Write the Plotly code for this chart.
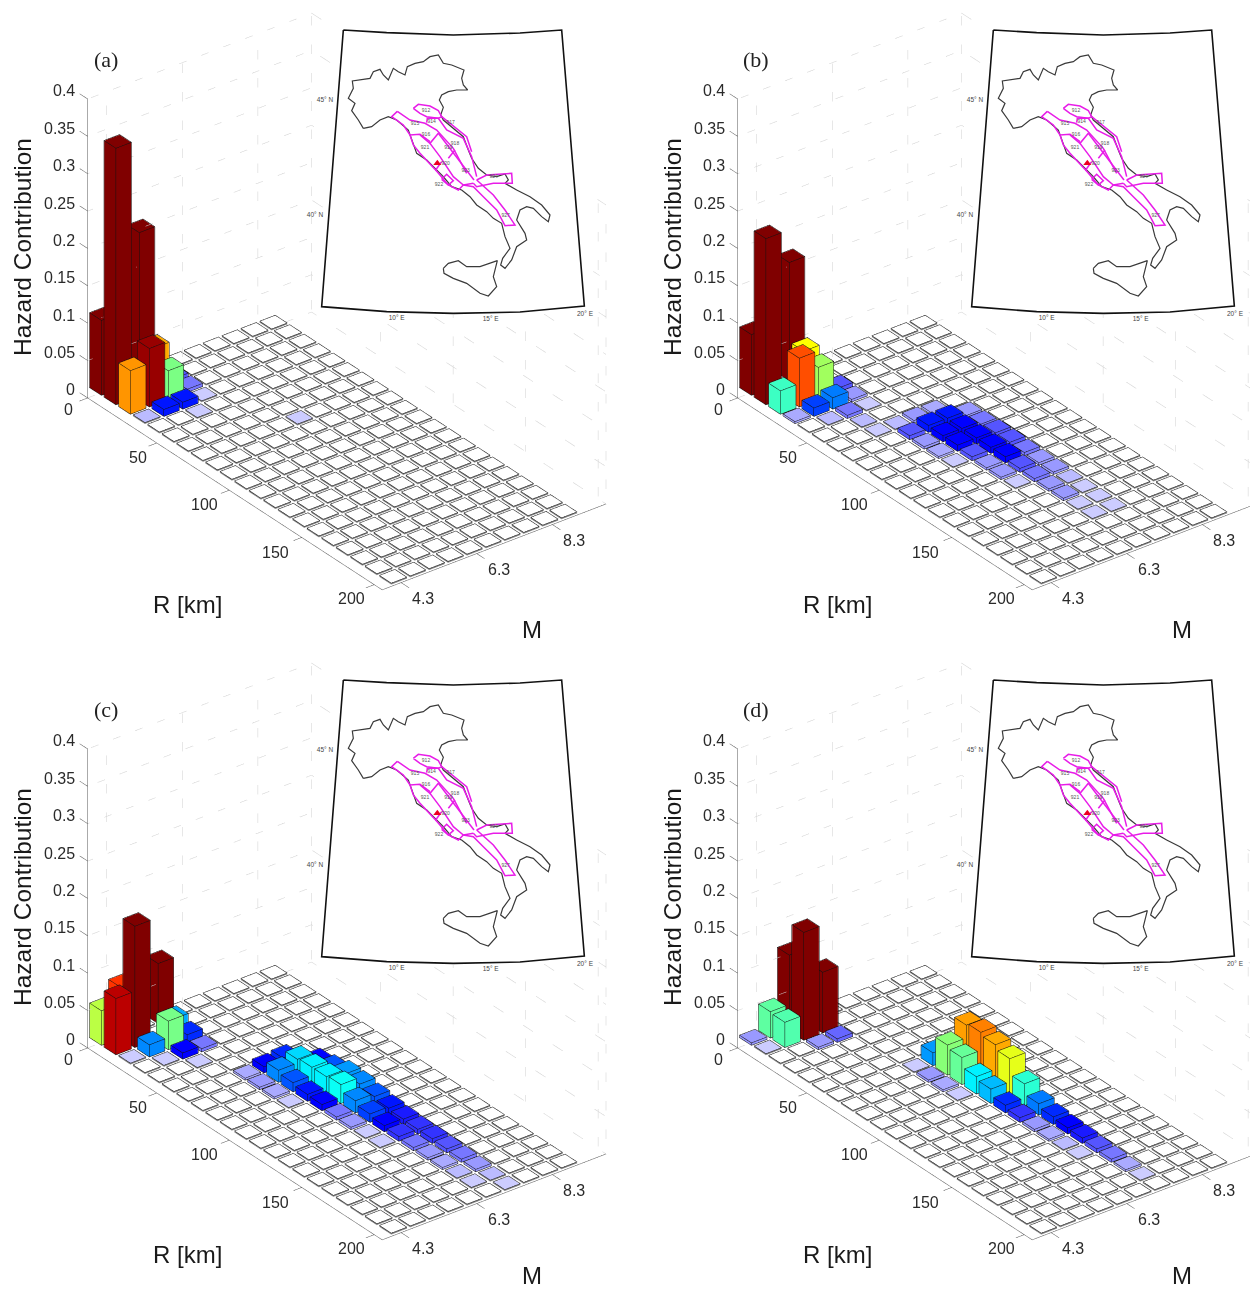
import math
import plotly.graph_objects as go
from plotly.colors import sample_colorscale, hex_to_rgb

# ---------- data ----------
R_ROWS = [10 * k for k in range(21)]
M_COLS = [4.3 + 0.5 * j for j in range(10)]
Z_TICKS = [0, 0.05, 0.1, 0.15, 0.2, 0.25, 0.3, 0.35, 0.4]
Z_LABELS = ["0", "0.05", "0.1", "0.15", "0.2", "0.25", "0.3", "0.35", "0.4"]
R_TICKS = [2.3, 50, 100, 150, 200]
R_LABELS = ["0", "50", "100", "150", "200"]
M_TICKS = [4.3, 6.3, 8.3]
M_LABELS = ["4.3", "6.3", "8.3"]
PANEL_LABELS = ["(a)", "(b)", "(c)", "(d)"]

a_row = [0, 1, 0, 2, 2, 1, 2, 3, 3, 2, 1, 3, 3, 4, 7]
a_col = [0, 0, 2, 1, 0, 2, 2, 1, 2, 3, 3, 3, 0, 2, 5]
a_val = [.1, .343, .198, .078, .058, .056, .0385, .009, .009, .004, .005, .0015, .002, .0015, .0015]

b_row = [0, 1, 0, 2, 1, 2, 2, 3, 3, 2, 3, 4, 4, 4, 3, 5, 6, 6, 6, 6, 7, 7, 7, 7, 8, 8, 8, 8, 9, 9, 9, 9,
         10, 10, 10, 10, 11, 11, 11, 12, 12, 12, 13, 13, 13, 14, 14, 15, 15, 16, 16, 17, 17]
b_col = [0, 0, 2, 1, 2, 2, 0, 2, 1, 3, 3, 3, 2, 1, 0, 2, 2, 3, 4, 5, 3, 4, 5, 6, 3, 4, 5, 6, 3, 4, 5, 6,
         3, 4, 5, 6, 4, 5, 6, 4, 5, 6, 4, 5, 6, 5, 6, 5, 6, 5, 6, 5, 6]
b_val = [.081, .222, .158, .065, .052, .043, .031, .015, .011, .005, .003, .0015, .004, .002, .0025, .002,
         .0015, .002, .003, .0025, .005, .009, .009, .003, .003, .008, .008, .004, .0025, .008, .008, .005,
         .0015, .005, .008, .005, .003, .008, .004, .003, .005, .003, .0015, .004, .003, .003, .002, .003,
         .0015, .0015, .0015, .0015, .0015]

c_row = [0, 0, 1, 1, 0, 2, 1, 2, 2, 3, 3, 2, 3, 4,
         6, 7, 8, 9, 6, 6, 7, 8, 9, 10, 11, 12, 13, 14,
         7, 8, 9, 10, 11, 12, 13, 14, 15, 16, 17, 18, 19,
         7, 8, 9, 10, 11, 12, 13, 14, 15, 16, 17, 18, 19, 20]
c_col = [0, 1, 0, 1, 3, 2, 3, 1, 3, 2, 3, 0, 1, 2,
         3, 3, 3, 3, 4, 5, 4, 4, 4, 4, 4, 4, 4, 4,
         5, 5, 5, 5, 5, 5, 5, 5, 5, 5, 5, 5, 5,
         6, 6, 6, 6, 6, 6, 6, 6, 6, 6, 6, 6, 6, 6]
c_val = [.046, .068, .075, .162, .08, .038, .018, .016, .01, .008, .004, .0015, .0015, .0015,
         .0025, .003, .0025, .0015, .008, .01, .016, .012, .009, .008, .004, .003, .0015, .0015,
         .021, .023, .023, .025, .016, .011, .008, .006, .004, .003, .0025, .002, .0015,
         .008, .012, .017, .016, .012, .009, .007, .006, .006, .005, .004, .003, .002, .0015]

d_row = [0, 1, 0, 1, 0, 1, 1, 2, 2,
         6, 7, 8, 9,
         6, 7, 8, 9, 10, 11, 12, 13, 14, 15, 16,
         7, 8, 9, 10, 11, 12, 13, 14, 15, 16, 17, 18, 19]
d_col = [0, 0, 1, 1, 2, 2, 3, 2, 3,
         4, 4, 4, 4,
         5, 5, 5, 5, 5, 5, 5, 5, 5, 5, 5,
         6, 6, 6, 6, 6, 6, 6, 6, 6, 6, 6, 6, 6]
d_val = [.003, .0015, .035, .0335, .101, .144, .081, .003, .0045,
         .0015, .003, .0025, .0015,
         .017, .04, .036, .023, .019, .01, .006, .003, .0025, .002, .0015,
         .057, .06, .056, .05, .029, .015, .01, .008, .007, .005, .004, .0025, .0015]

# colour stops: hazard value, colour
COLOR_VALUES = [0, .001, .002, .003, .004, .005, .006, .008, .012, .016, .02, .024, .03, .036, .042,
                .048, .052, .056, .06, .066, .07, .075, .08]
COLOR_HEX = ["#ffffff", "#ddddff", "#bbbbff", "#9999ff", "#7777ff", "#5555ff", "#3333ff", "#0000ff",
             "#0055ff", "#0088ff", "#00ccff", "#00ffff", "#33ffcc", "#66ff99", "#99ff66", "#ccff33",
             "#ffff00", "#ffaa00", "#ff8000", "#ff4400", "#ff2200", "#bb0000", "#800000"]

# Inset map, traced in map units (y grows downward)
italy_x = [130, 115, 95, 105, 85, 100, 97, 130, 150, 160, 180, 190, 205, 220, 235, 255, 262, 285, 310, 330, 355,
           370, 395, 432, 425, 430, 443, 410, 385, 365, 358, 370, 362, 370, 400, 430, 447, 455, 475, 500, 530, 555,
           565, 555, 590, 630, 665, 690, 685, 665, 640, 620, 600, 590, 615, 620, 590, 575, 555, 542, 548, 570, 555,
           545, 520, 500, 470, 450, 425, 395, 370, 345, 320, 290, 275, 265, 230, 205, 180, 155, 130]
italy_y = [325, 300, 272, 250, 235, 205, 183, 178, 175, 155, 148, 165, 180, 145, 155, 165, 140, 130, 125, 110, 105,
           130, 135, 150, 175, 195, 210, 210, 215, 225, 240, 262, 285, 300, 325, 350, 395, 415, 445, 465, 470, 462,
           480, 490, 510, 530, 555, 585, 605, 590, 565, 560, 570, 600, 640, 660, 680, 720, 745, 735, 715, 685, 650,
           610, 595, 575, 555, 530, 510, 500, 470, 445, 420, 400, 360, 330, 300, 290, 300, 320, 325]
sicily_x = [370, 385, 415, 440, 480, 532, 520, 530, 505, 480, 440, 400, 372, 370]
sicily_y = [745, 730, 722, 740, 740, 722, 770, 800, 828, 820, 790, 775, 760, 745]
frame_x = [70, 200, 400, 600, 725, 793, 600, 400, 200, 5, 70]
frame_y = [30, 38, 45, 39, 30, 858, 876, 880, 875, 860, 30]
zones_x = [280, 295, 330, 355, 365, 355, 320, 300, 280, None,
           232, 215, 250, 270, 300, 330, None,
           232, 270, 315, 350, 400, 440, None,
           320, 322, 355, 380, 430, 455, 470, None,
           365, 440, 455, None,
           270, 280, 300, 340, 347, 365, None,
           300, 330, 355, None,
           330, 360, 400, 430, 460, None,
           355, 430, 462, None,
           385, 405, None,
           365, 380, 400, 385, 365, None,
           347, 385, 415, 430, None,
           470, 500, 575, 577, 520, 470, 460, None,
           470, 520, 555, 585, 555, 530, 490, 460, 430]
zones_y = [265, 253, 258, 272, 290, 295, 290, 280, 265, None,
           274, 290, 315, 345, 343, 365, None,
           274, 300, 310, 330, 385, 460, None,
           308, 295, 295, 330, 355, 410, 470, None,
           290, 350, 395, None,
           345, 375, 400, 445, 450, 425, None,
           345, 370, 340, None,
           370, 410, 470, 495, 490, None,
           340, 440, 480, None,
           415, 390, None,
           478, 463, 482, 495, 478, None,
           450, 495, 510, 495, None,
           480, 465, 460, 490, 490, 500, 490, None,
           480, 525, 570, 615, 617, 570, 530, 500, 495]
zone_labels = ["912", "914", "915", "917", "916", "918", "919", "921", "920", "923", "924", "922", "927"]
zone_label_x = [318, 335, 285, 392, 318, 405, 385, 315, 377, 437, 521, 357, 557]
zone_label_y = [272, 306, 310, 308, 345, 370, 383, 383, 432, 453, 470, 495, 587]
site_x = [352]
site_y = [430]
coord_labels = ["45° N", "40° N", "10° E", "15° E", "20° E"]
coord_x = [15, -15, 230, 512, 795]
coord_y = [240, 585, 895, 897, 882]

# ---------- geometry ----------
PAGE_W, PAGE_H, BODY = 1242, 1277, 8
DX, DY = 650, 650
R_RANGE = [-15, 225]
M_RANGE = [3.4, 10]
Z_RANGE = [-0.01, 0.41]
R_A0, R_A1, M_A0, M_A1 = 2.3, 205.5, 3.8, 9.72
REF = 316.0
ASPECT = dict(x=571.4 / REF, y=314.6 / REF, z=362.5 / REF)
EL, AZ = math.radians(30), math.radians(-37.5)
VIEW = [math.cos(EL) * math.cos(AZ), math.cos(EL) * math.sin(AZ), math.sin(EL)]
U = [-math.sin(AZ), math.cos(AZ), 0]
V = [-math.sin(EL) * math.cos(AZ), -math.sin(EL) * math.sin(AZ), math.cos(EL)]
EYE_DIST = 3.0
SCENE_SIZE = 632
SCENE_LEFT = [8, 618]
SCENE_TOP = [8, 653]
SHIFT_X = [-22.2, -62.2]
SHIFT_Y = [-20.6, -15.6]
M_TITLE_Y = [630, 1275]
FLAT_H = 0.0012
PAD_R, PAD_M, PAD_Z = 0.12, 0.006, 0.0003


def fx(p):
    return (p - BODY) / PAGE_W


def fy(p):
    return 1 - (p - BODY) / PAGE_H


def screen(r, m, z):
    return (102.7 + 1.45 * r + 38 * (m - 4.3), 389.7 + 0.935 * r - 14.6 * (m - 4.3) - 747.5 * z)


def behind_map(r, m, z):
    x, y = screen(r, m, z)
    return 26 < y < 312 and 344 - (y - 30) * 0.08 - 4 < x < 590


_scale = [[v / .08, "rgb(%d,%d,%d)" % hex_to_rgb(h)] for v, h in zip(COLOR_VALUES, COLOR_HEX)]


def colour(v):
    return sample_colorscale(_scale, [min(v / .08, 1)])[0]


def bar_traces(rows, cols, vals, scene):
    heights = {(r, c): v for r, c, v in zip(rows, cols, vals)}
    vx, vy, vz, fi, fj, fk, fc = [], [], [], [], [], [], []
    black = [[], [], []]
    grey = [[], [], []]

    def seg(t, pts):
        for p in pts:
            for d in range(3):
                t[d].append(p[d])
        for d in range(3):
            t[d].append(None)

    for k, r in enumerate(R_ROWS):
        for j, m in enumerate(M_COLS):
            val = heights.get((k, j), 0)
            flat = val < 0.0025
            h = FLAT_H if flat else val
            x0, x1, y0, y1 = r - 4, r + 4, m - 0.2, m + 0.2
            base = len(vx)
            for z in (0, h):
                vx += [x0, x1, x1, x0]
                vy += [y0, y0, y1, y1]
                vz += [z, z, z, z]
            col = colour(val)
            side = "rgb(140,140,140)" if flat else col
            for a, b, c, s in [(4, 5, 6, 1), (4, 6, 7, 1), (0, 1, 5, 0), (0, 5, 4, 0), (1, 2, 6, 0), (1, 6, 5, 0),
                               (2, 3, 7, 0), (2, 7, 6, 0), (3, 0, 4, 0), (3, 4, 7, 0)]:
                fi.append(base + a)
                fj.append(base + b)
                fk.append(base + c)
                fc.append(col if s else side)
            xa, xb, ya, yb, zt = x0 - PAD_R, x1 + PAD_R, y0 - PAD_M, y1 + PAD_M, h + PAD_Z
            top = [(xa, ya, zt), (xb, ya, zt), (xb, yb, zt), (xa, yb, zt), (xa, ya, zt)]
            bot = [(xa, ya, 0), (xb, ya, 0), (xb, yb, 0), (xa, yb, 0), (xa, ya, 0)]
            seg(black, top)
            if flat:
                seg(grey, bot)
            else:
                seg(black, bot)
                for p, q in zip(top[:4], bot[:4]):
                    seg(black, [p, q])
    mesh = go.Mesh3d(x=vx, y=vy, z=vz, i=fi, j=fj, k=fk, facecolor=fc, flatshading=True,
                     lighting=dict(ambient=1, diffuse=0, specular=0, fresnel=0, roughness=1),
                     hoverinfo="skip", showscale=False, scene=scene)
    l1 = go.Scatter3d(x=black[0], y=black[1], z=black[2], mode="lines", line=dict(color="#111111", width=1),
                      hoverinfo="skip", showlegend=False, scene=scene)
    l2 = go.Scatter3d(x=grey[0], y=grey[1], z=grey[2], mode="lines", line=dict(color="#808080", width=1),
                      hoverinfo="skip", showlegend=False, scene=scene)
    return [mesh, l2, l1]


def wall_trace(scene):
    xs, ys, zs = [], [], []

    def add(p, q):
        n = 70
        for s in range(n + 1):
            t = s / n
            r, m, z = [p[i] + (q[i] - p[i]) * t for i in range(3)]
            if behind_map(r, m, z):
                xs.append(None), ys.append(None), zs.append(None)
            else:
                xs.append(r), ys.append(m), zs.append(z)
        xs.append(None), ys.append(None), zs.append(None)

    for z in Z_TICKS:
        add((R_A0, M_A0, z), (R_A0, M_A1, z))
        add((R_A0, M_A1, z), (R_A1, M_A1, z))
    for m in M_TICKS + [M_A1]:
        add((R_A0, m, 0), (R_A0, m, .4))
    for r in R_TICKS[1:] + [R_A1]:
        add((r, M_A1, 0), (r, M_A1, .4))
    return go.Scatter3d(x=xs, y=ys, z=zs, mode="lines", line=dict(color="#cfcfcf", width=1, dash="dot"),
                        hoverinfo="skip", showlegend=False, scene=scene)


def axis_trace(scene):
    pts = [[(R_A0, M_A0, 0), (R_A0, M_A0, .4)], [(R_A0, M_A0, 0), (R_A1, M_A0, 0)], [(R_A1, M_A0, 0), (R_A1, M_A1, 0)]]
    for z in Z_TICKS:
        pts.append([(R_A0, M_A0, z), (R_A0 - 5.5, M_A0, z)])
    for r in R_TICKS:
        pts.append([(r, M_A0, 0), (r, M_A0 - .22, 0)])
    for m in M_TICKS:
        pts.append([(R_A1, m, 0), (R_A1 + 5.5, m, 0)])
    xs, ys, zs = [], [], []
    for p, q in pts:
        xs += [p[0], q[0], None]
        ys += [p[1], q[1], None]
        zs += [p[2], q[2], None]
    return go.Scatter3d(x=xs, y=ys, z=zs, mode="lines", line=dict(color="#555555", width=1),
                        hoverinfo="skip", showlegend=False, scene=scene)


def scene_notes():
    notes = []
    f = dict(family="Liberation Sans", size=16, color="#2a2a2a")
    for z, t in zip(Z_TICKS, Z_LABELS):
        notes.append(dict(x=R_A0, y=M_A0, z=z, text=t, showarrow=False, xanchor="right", xshift=-11, yshift=8, font=f))
    for r, t, sx, sy in zip(R_TICKS, R_LABELS, [-19, -19, -25, -26, -23], [-12, -14, -14, -15, -14]):
        notes.append(dict(x=r, y=M_A0, z=0, text=t, showarrow=False, xshift=sx, yshift=sy, font=f))
    for m, t in zip(M_TICKS, M_LABELS):
        notes.append(dict(x=R_A1, y=m, z=0, text=t, showarrow=False, xshift=22, yshift=-16, font=f))
    return notes


# ---------- build ----------
fig = go.Figure()
panels = [(a_row, a_col, a_val, 0, 0), (b_row, b_col, b_val, 1, 0), (c_row, c_col, c_val, 0, 1), (d_row, d_col, d_val, 1, 1)]
layout = {}
annots = []
for n, (rows, cols, vals, col, row) in enumerate(panels):
    name = "scene" if n == 0 else "scene%d" % (n + 1)
    ox, oy = col * DX, row * DY
    center = [(SHIFT_X[col] * U[i] + SHIFT_Y[row] * V[i]) / REF for i in range(3)]
    eye = [center[i] + EYE_DIST * VIEW[i] for i in range(3)]
    for t in bar_traces(rows, cols, vals, name):
        fig.add_trace(t)
    fig.add_trace(wall_trace(name))
    fig.add_trace(axis_trace(name))
    hid = dict(visible=False, showspikes=False)
    left, top = SCENE_LEFT[col], SCENE_TOP[row]
    layout[name] = dict(
        domain=dict(x=[fx(left), fx(left + SCENE_SIZE)], y=[fy(top + SCENE_SIZE), fy(top)]),
        xaxis=dict(range=R_RANGE, **hid), yaxis=dict(range=M_RANGE, **hid), zaxis=dict(range=Z_RANGE, **hid),
        aspectmode="manual", aspectratio=ASPECT, annotations=scene_notes(), bgcolor="rgba(0,0,0,0)",
        camera=dict(projection=dict(type="orthographic"), up=dict(x=0, y=0, z=1),
                    center=dict(x=center[0], y=center[1], z=center[2]),
                    eye=dict(x=eye[0], y=eye[1], z=eye[2])))
    # inset map
    xa, ya = ("x", "y") if n == 0 else ("x%d" % (n + 1), "y%d" % (n + 1))
    xkey = "xaxis" if n == 0 else "xaxis%d" % (n + 1)
    ykey = "yaxis" if n == 0 else "yaxis%d" % (n + 1)
    layout[xkey] = dict(domain=[fx(300 + ox), fx(600 + ox)], range=[-60, 840], visible=False, anchor=ya, fixedrange=True)
    layout[ykey] = dict(domain=[fy(330 + oy), fy(20 + oy)], range=[930, 0], visible=False, anchor=xa, fixedrange=True)
    common = dict(xaxis=xa, yaxis=ya, hoverinfo="skip", showlegend=False)
    fig.add_trace(go.Scatter(x=italy_x, y=italy_y, mode="lines", line=dict(color="#3a3a3a", width=1.2), **common))
    fig.add_trace(go.Scatter(x=sicily_x, y=sicily_y, mode="lines", line=dict(color="#3a3a3a", width=1.2), **common))
    fig.add_trace(go.Scatter(x=frame_x, y=frame_y, mode="lines", line=dict(color="#111111", width=1.6), **common))
    fig.add_trace(go.Scatter(x=zones_x, y=zones_y, mode="lines", line=dict(color="#e81ce8", width=1.5), **common))
    fig.add_trace(go.Scatter(x=site_x, y=site_y, mode="markers", marker=dict(symbol="triangle-up", size=7, color="#ee0022"), **common))
    fig.add_trace(go.Scatter(x=zone_label_x, y=zone_label_y, mode="text", text=zone_labels,
                             textfont=dict(family="Liberation Sans", size=5, color="#555555"), **common))
    fig.add_trace(go.Scatter(x=coord_x, y=coord_y, mode="text", text=coord_labels,
                             textfont=dict(family="Liberation Sans", size=6.5, color="#444444"), **common))
    # page-level texts
    annots += [
        dict(x=fx(106 + ox), y=fy(59 + oy), text=PANEL_LABELS[n], font=dict(family="Liberation Serif", size=22, color="#222222")),
        dict(x=fx(22 + ox), y=fy(247 + oy), text="Hazard Contribution", textangle=-90, font=dict(family="Liberation Sans", size=24.5, color="#1a1a1a")),
        dict(x=fx(187 + ox), y=fy(604 + oy), text="R [km]", font=dict(family="Liberation Sans", size=24, color="#1a1a1a")),
        dict(x=fx(532 + ox), y=fy(M_TITLE_Y[row]), text="M", font=dict(family="Liberation Sans", size=24, color="#1a1a1a")),
    ]
for a in annots:
    a.update(xref="paper", yref="paper", showarrow=False, xanchor="center", yanchor="middle")
fig.update_layout(width=PAGE_W, height=PAGE_H, margin=dict(l=0, r=0, t=0, b=0), autosize=False,
                  paper_bgcolor="white", plot_bgcolor="rgba(0,0,0,0)", showlegend=False,
                  annotations=annots, **layout)
fig.write_html("out.html")
